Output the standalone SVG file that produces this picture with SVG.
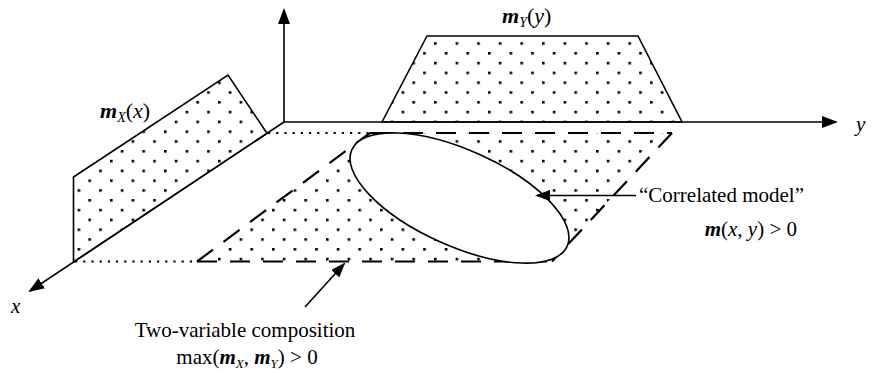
<svg xmlns="http://www.w3.org/2000/svg" width="873" height="373" viewBox="0 0 873 373">
<style>
.ln{stroke:#000;stroke-width:1.6;fill:none}
.dash{stroke:#000;stroke-width:2.2;fill:none;stroke-dasharray:20 13}
.dot{stroke:#000;stroke-width:2.2;fill:none;stroke-dasharray:2.2 6}
.shape{fill:url(#dots);stroke:#000;stroke-width:1.6;stroke-linejoin:miter}
text{font-family:"Liberation Serif","Times New Roman",serif;font-size:21px;fill:#000}
.lbl{font-size:22px}
.mi{font-style:italic;font-weight:bold}
.it{font-style:italic}
.sub{font-style:italic;font-size:14px}
.sub2{font-style:italic;font-size:13px}
</style>
<defs>
<pattern id="dots" x="2" y="3" width="21.6" height="19.6" patternUnits="userSpaceOnUse">
<rect x="0" y="0" width="2.6" height="2.6" fill="#000"/>
<rect x="10.8" y="9.8" width="2.6" height="2.6" fill="#000"/>
</pattern>
<marker id="ah" markerWidth="16" markerHeight="12" refX="14" refY="6" orient="auto" markerUnits="userSpaceOnUse">
<path d="M0,0 L16,6 L0,12 Z" fill="#000"/>
</marker>
<marker id="ah2" markerWidth="15" markerHeight="11" refX="13" refY="5.5" orient="auto" markerUnits="userSpaceOnUse">
<path d="M0,0 L15,5.5 L0,11 Z" fill="#000"/>
</marker>
</defs>

<g id="floor">
<polygon points="197,261.5 370,133 672,133 552,261.5" fill="url(#dots)"/>
<line class="dot" x1="268" y1="133" x2="370" y2="133"/>
<line class="dot" x1="75" y1="261.5" x2="197" y2="261.5"/>
<line class="dash" x1="197" y1="261.5" x2="370" y2="133"/>
<line class="dash" x1="370" y1="133" x2="672" y2="133"/>
<line class="dash" x1="672" y1="133" x2="552" y2="261.5"/>
<line class="dash" x1="197" y1="261.5" x2="552" y2="261.5"/>
</g>

<g id="correlated-ellipse">
<ellipse cx="459.5" cy="198" rx="118" ry="48" transform="rotate(24.1 459.5 198)" fill="#fff" stroke="#000" stroke-width="1.6"/>
</g>

<g id="mx-shape">
<polygon class="shape" points="73.5,262 73.5,177 228,75 267,133.3"/>
</g>

<g id="my-shape">
<polygon class="shape" points="382,122 427,36 638,36 682,122"/>
</g>

<g id="connectors">
<line class="ln" x1="284" y1="122" x2="284" y2="10" marker-end="url(#ah)"/>
<line class="ln" x1="284" y1="122" x2="836" y2="122" marker-end="url(#ah)"/>
<line class="ln" x1="284" y1="122" x2="30" y2="291" marker-end="url(#ah)"/>
<line class="ln" x1="636" y1="195.5" x2="537" y2="195.5" marker-end="url(#ah2)"/>
<line class="ln" x1="305" y1="307" x2="344" y2="264" marker-end="url(#ah2)"/>
</g>

<g id="labels">
<text class="lbl" x="100" y="118"><tspan class="mi">m</tspan><tspan class="sub" dy="4">X</tspan><tspan dy="-4">(</tspan><tspan class="it">x</tspan>)</text>
<text class="lbl" x="502" y="23"><tspan class="mi">m</tspan><tspan class="sub" dy="4">Y</tspan><tspan dy="-4">(</tspan><tspan class="it">y</tspan>)</text>
<text x="856" y="131" class="it">y</text>
<text x="11" y="313" class="it">x</text>
<text x="639" y="202">“Correlated model”</text>
<text x="797" y="236" text-anchor="end"><tspan class="mi">m</tspan>(<tspan class="it">x</tspan>, <tspan class="it">y</tspan>) &gt; 0</text>
<text x="245" y="337" text-anchor="middle">Two-variable composition</text>
<text x="247" y="364" text-anchor="middle" font-size="20">max(<tspan class="mi">m</tspan><tspan class="sub2" dy="4">X</tspan><tspan dy="-4">, </tspan><tspan class="mi">m</tspan><tspan class="sub2" dy="4">Y</tspan><tspan dy="-4">) &gt; 0</tspan></text>
</g>
</svg>
